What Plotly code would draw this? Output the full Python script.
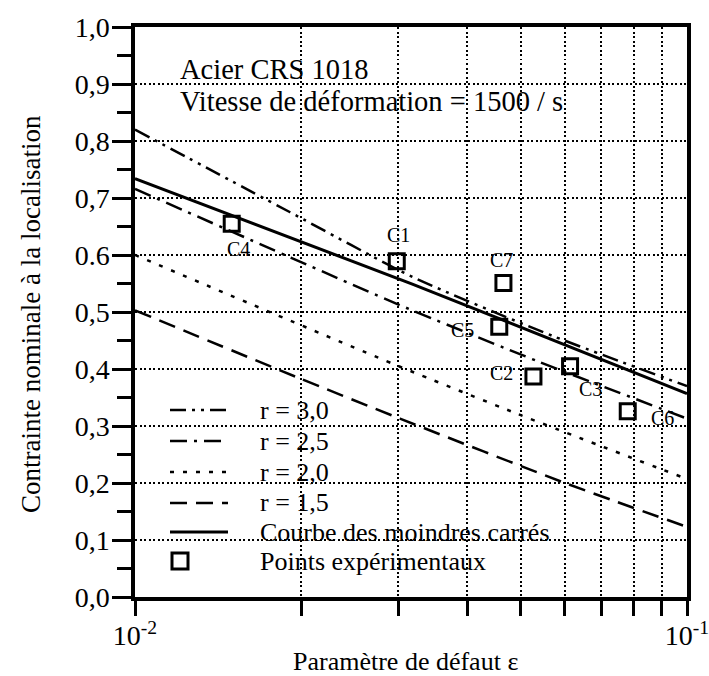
import math
import plotly.graph_objects as go

# Paramètre de défaut (axe log) et contrainte nominale pour chaque courbe théorique
eps_r30 = [0.01, 0.0191, 0.0319, 0.0571, 0.1]
sig_r30 = [0.820, 0.675, 0.561, 0.458, 0.370]

eps_r25 = [0.01, 0.0302, 0.0535, 0.1]
sig_r25 = [0.716, 0.512, 0.414, 0.313]

eps_r20 = [0.01, 0.0302, 0.0491, 0.1]
sig_r20 = [0.600, 0.404, 0.322, 0.207]

eps_r15 = [0.01, 0.0196, 0.0302, 0.0605, 0.1]
sig_r15 = [0.503, 0.386, 0.313, 0.199, 0.123]

# Courbe des moindres carrés
eps_ls = [0.01, 0.0318, 0.1]
sig_ls = [0.734, 0.549, 0.357]

# Points expérimentaux
exp_labels = ["C1", "C2", "C3", "C4", "C5", "C6", "C7"]
exp_eps = [0.0298, 0.0527, 0.0614, 0.01497, 0.0457, 0.0781, 0.0465]
exp_sig = [0.589, 0.387, 0.405, 0.655, 0.474, 0.326, 0.551]

# Graduations
x_tickvals = [0.01, 0.1]
x_ticktext = ["10<sup>-2</sup>", "10<sup>-1</sup>"]
x_minorvals = [0.02, 0.03, 0.04, 0.05, 0.06, 0.07, 0.08, 0.09]
y_tickvals = [0.0, 0.1, 0.2, 0.3, 0.4, 0.5, 0.6, 0.7, 0.8, 0.9, 1.0]
y_ticktext = ["0,0", "0,1", "0,2", "0,3", "0,4", "0,5", "0.6", "0,7", "0,8", "0,9", "1,0"]
y_minorvals = [0.05, 0.15, 0.25, 0.35, 0.45, 0.55, 0.65, 0.75, 0.85, 0.95]

legend_names = ["r = 3,0", "r = 2,5", "r = 2,0", "r = 1,5",
                "Courbe des moindres carrés", "Points expérimentaux"]

FONT = "Liberation Serif"
INK = "black"
GRID_DASH = "2px,2.5px"

# styles des courbes : (x, y, tirets, épaisseur)
curves = [
    (eps_r30, sig_r30, "16px,6px,3px,6px,3px,6px", 2.5),
    (eps_r25, sig_r25, "17px,7px,3px,7px", 2.5),
    (eps_r20, sig_r20, "4px,9px", 2.5),
    (eps_r15, sig_r15, "17px,9px", 2.5),
    (eps_ls, sig_ls, "solid", 3),
]

fig = go.Figure()
for (xs, ys, dash, w), name in zip(curves, legend_names):
    fig.add_trace(go.Scatter(
        x=xs, y=ys, mode="lines", name=name, showlegend=False,
        line=dict(color=INK, width=w, dash=dash, shape="spline", smoothing=0.6),
    ))

fig.add_trace(go.Scatter(
    x=exp_eps, y=exp_sig, mode="markers", name=legend_names[5], showlegend=False,
    marker=dict(symbol="square-open", size=15, color=INK, line=dict(width=3, color=INK)),
))

# étiquettes des essais, décalées en pixels autour de chaque point
# (sur un axe log, les annotations se placent en log10 de la valeur)
label_shift = {
    "C1": (2, 26), "C2": (-32, 3), "C3": (20, -23), "C4": (7, -25),
    "C5": (-37, -3), "C6": (35, -7), "C7": (-2, 23),
}
annotations = []
for lab, xe, ye in zip(exp_labels, exp_eps, exp_sig):
    dx, dy = label_shift[lab]
    annotations.append(dict(
        x=math.log10(xe), y=ye, xref="x", yref="y", text=lab, showarrow=False,
        xshift=dx, yshift=dy, font=dict(family=FONT, size=20, color=INK),
    ))

# zone du tracé en pixels, pour convertir en coordonnées "paper"
PX_L, PX_R, PX_T, PX_B = 135.0, 687.0, 27.0, 597.0
def px(xp):
    return (xp - PX_L) / (PX_R - PX_L)
def py(yp):
    return (PX_B - yp) / (PX_B - PX_T)

# texte d'en-tête (deux lignes, interligne réglé par la taille de base)
big = '<span style="font-size:28.5px">{}</span>'
annotations.append(dict(
    x=px(178), y=py(85), xref="paper", yref="paper",
    text=big.format("Acier CRS 1018") + "<br>" + big.format("Vitesse de déformation = 1500 / s"),
    showarrow=False, xanchor="left", yanchor="middle", align="left",
    font=dict(family=FONT, size=24.6, color=INK)))

# titres des axes
annotations.append(dict(x=px(405), y=py(661), xref="paper", yref="paper",
                        text="Paramètre de défaut ε", showarrow=False,
                        xanchor="center", yanchor="middle",
                        font=dict(family=FONT, size=26, color=INK)))
annotations.append(dict(x=px(31), y=py(314), xref="paper", yref="paper",
                        text="Contrainte nominale à la localisation", showarrow=False,
                        textangle=-90, xanchor="center", yanchor="middle",
                        font=dict(family=FONT, size=27, color=INK)))

# légende dessinée dans le cadre
legend_rows = [410, 441, 472, 503, 532, 561]
shapes = []
for (xs, ys, dash, w), row in zip(curves, legend_rows[:5]):
    shapes.append(dict(type="line", xref="paper", yref="paper",
                       x0=px(170), x1=px(228), y0=py(row), y1=py(row),
                       line=dict(color=INK, width=w, dash=dash)))
shapes.append(dict(type="rect", xref="paper", yref="paper",
                   x0=px(172), x1=px(188), y0=py(legend_rows[5] + 8), y1=py(legend_rows[5] - 8),
                   line=dict(color=INK, width=3), fillcolor="rgba(0,0,0,0)"))
for name, row in zip(legend_names, legend_rows):
    annotations.append(dict(x=px(258), y=py(row), xref="paper", yref="paper",
                            text=name, showarrow=False, xanchor="left", yanchor="middle",
                            font=dict(family=FONT, size=26, color=INK)))

fig.update_layout(
    width=709, height=676,
    margin=dict(l=135, r=709 - 687, t=27, b=676 - 597),
    paper_bgcolor="white", plot_bgcolor="white",
    showlegend=False,
    annotations=annotations, shapes=shapes,
    font=dict(family=FONT, color=INK),
)

fig.update_xaxes(
    type="log", range=[-2, -1], automargin=False,
    tickmode="array", tickvals=x_tickvals, ticktext=x_ticktext,
    ticks="outside", ticklen=15, tickwidth=3, tickcolor=INK,
    tickfont=dict(family=FONT, size=28, color=INK), ticklabelstandoff=-4,
    ticklabeloverflow="allow",
    minor=dict(tickmode="array", tickvals=x_minorvals, ticks="outside",
               ticklen=15, tickwidth=3, tickcolor=INK,
               showgrid=True, gridcolor=INK, gridwidth=1.8, griddash=GRID_DASH),
    showline=True, linewidth=3.5, linecolor=INK, mirror=True,
    showgrid=True, gridcolor=INK, gridwidth=1.8, griddash=GRID_DASH,
    zeroline=False,
)
fig.update_yaxes(
    range=[0, 1], automargin=False,
    tickmode="array", tickvals=y_tickvals, ticktext=y_ticktext,
    ticks="outside", ticklen=19, tickwidth=3, tickcolor=INK,
    tickfont=dict(family=FONT, size=28, color=INK), ticklabelstandoff=-3,
    minor=dict(tickmode="array", tickvals=y_minorvals, ticks="outside",
               ticklen=14, tickwidth=3, tickcolor=INK, showgrid=False),
    showline=True, linewidth=3.5, linecolor=INK, mirror=True,
    showgrid=True, gridcolor=INK, gridwidth=1.8, griddash=GRID_DASH,
    zeroline=False,
)

fig.write_html("out.html")
